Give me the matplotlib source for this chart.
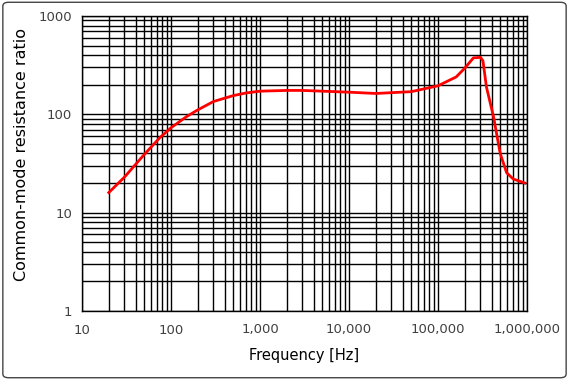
import numpy as np
import matplotlib.pyplot as plt
from matplotlib.patches import FancyBboxPatch
from matplotlib.ticker import FixedLocator, LogLocator, NullFormatter

freq = [20, 30, 50, 75, 100, 150, 200, 300, 500, 700, 1000, 2000, 3000, 5000,
        10000, 20000, 50000, 100000, 160000, 200000, 250000, 300000, 320000,
        350000, 420000, 500000, 590000, 700000, 950000]
cmrr = [16, 23, 39, 58, 73, 95, 111, 135, 155, 165, 172, 175, 175, 172,
        168, 163, 170, 195, 240, 295, 375, 380, 350,
        190, 95, 40, 25.5, 22, 20]

x_ticks = [10, 100, 1000, 10000, 100000, 1000000]
x_labels = ["10", "100", "1,000", "10,000", "100,000", "1,000,000"]
y_ticks = [1, 10, 100, 1000]
y_labels = ["1", "10", "100", "1000"]

fig = plt.figure(figsize=(5.69, 3.8), dpi=100)
ax = fig.add_axes([82 / 569, 69 / 380, 445 / 569, 295 / 380])

ax.plot(freq, cmrr, color="#ff0000", lw=2, zorder=3)
ax.set_xscale("log")
ax.set_yscale("log")
ax.set_xlim(10, 1e6)
ax.set_ylim(1, 1000)

ax.xaxis.set_major_locator(FixedLocator(x_ticks))
ax.set_xticklabels(x_labels)
ax.yaxis.set_major_locator(FixedLocator(y_ticks))
ax.set_yticklabels(y_labels)
ax.xaxis.set_minor_locator(LogLocator(base=10, subs=range(2, 10), numticks=20))
ax.yaxis.set_minor_locator(LogLocator(base=10, subs=range(2, 10), numticks=20))
ax.xaxis.set_minor_formatter(NullFormatter())
ax.yaxis.set_minor_formatter(NullFormatter())

ax.grid(True, which="both", color="black", lw=1)
ax.tick_params(axis="x", which="both", length=0, labelsize=9.5, labelcolor="#404040", pad=9)
ax.tick_params(axis="y", which="both", length=0, labelsize=9.5, labelcolor="#404040", pad=7)
for s in ax.spines.values():
    s.set_color("black")
    s.set_linewidth(1)

ax.set_xlabel("Frequency [Hz]", fontsize=10.5, labelpad=8)
ax.set_ylabel("Common-mode resistance ratio", fontsize=11.5, va="center")
ax.yaxis.set_label_coords(-0.135, 0.53)

border = FancyBboxPatch((0.005, 0.006), 0.99, 0.988, boxstyle="round,pad=0,rounding_size=0.01",
                        transform=fig.transFigure, fill=False, edgecolor="#444444", lw=1)
fig.patches.append(border)

fig.savefig("out.png", dpi=100)
